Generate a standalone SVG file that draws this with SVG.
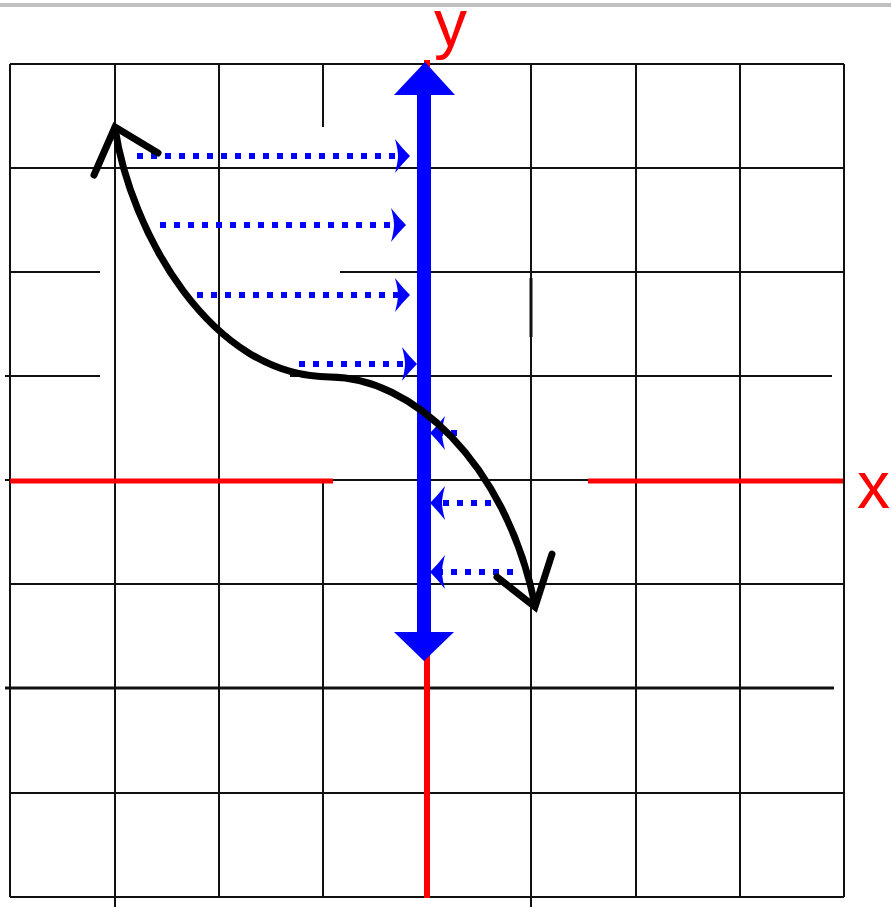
<svg xmlns="http://www.w3.org/2000/svg" width="891" height="907" viewBox="0 0 891 907">
  <style>
    .g { stroke: #111; stroke-width: 2; fill: none; }
    .gt { stroke: #111; stroke-width: 3; fill: none; }
    .red { stroke: #ff0000; fill: none; }
    .dots { stroke: #0000ff; stroke-width: 6; stroke-dasharray: 6 8; fill: none; marker-end: url(#ah); }
    .crv { stroke: #000; stroke-width: 7; fill: none; stroke-linecap: round; }
    .lbl { font-family: "Liberation Sans", Arial, sans-serif; font-size: 66px; fill: #ff0000; }
  </style>
  <defs>
    <marker id="ah" viewBox="-16 -18 17 36" markerWidth="17" markerHeight="36" refX="-10" refY="0" orient="auto" markerUnits="userSpaceOnUse">
      <path d="M0,0 Q-8,-8 -15,-17 Q-12,-6 -12,0 Q-12,6 -15,17 Q-8,8 0,0 Z" fill="#0000ff"/>
    </marker>
  </defs>
  <rect x="0" y="0" width="891" height="907" fill="#ffffff"/>

  <g id="grid">
    <line class="g" x1="10" y1="64" x2="10" y2="897"/>
    <line class="g" x1="115" y1="64" x2="115" y2="907"/>
    <line class="g" x1="219" y1="64" x2="219" y2="897"/>
    <line class="g" x1="323" y1="64" x2="323" y2="127"/>
    <line class="g" x1="323" y1="483" x2="323" y2="897"/>
    <line class="g" x1="531" y1="64" x2="531" y2="907"/>
    <line class="gt" x1="531" y1="278" x2="531" y2="337"/>
    <line class="g" x1="636" y1="64" x2="636" y2="897"/>
    <line class="g" x1="740" y1="64" x2="740" y2="897"/>
    <line class="g" x1="844" y1="64" x2="844" y2="897"/>
    <line class="g" x1="10" y1="64" x2="844" y2="64"/>
    <line class="g" x1="10" y1="168" x2="844" y2="168"/>
    <line class="g" x1="10" y1="272" x2="100" y2="272"/>
    <line class="g" x1="340" y1="272" x2="844" y2="272"/>
    <line class="g" x1="5" y1="376" x2="100" y2="376"/>
    <line class="g" x1="290" y1="376" x2="832" y2="376"/>
    <line class="g" x1="5" y1="480" x2="844" y2="480"/>
    <line class="g" x1="10" y1="584" x2="844" y2="584"/>
    <line class="gt" x1="5" y1="688" x2="834" y2="688"/>
    <line class="g" x1="10" y1="793" x2="844" y2="793"/>
    <line class="g" x1="10" y1="897" x2="844" y2="897"/>
  </g>

  <g id="axes">
    <line class="red" stroke-width="5" x1="10" y1="481" x2="333" y2="481"/>
    <line class="red" stroke-width="5" x1="588" y1="481" x2="843" y2="481"/>
    <line class="red" stroke-width="6" x1="427" y1="60" x2="427" y2="898"/>
  </g>

  <g id="blue-axis">
    <rect x="417" y="92" width="14" height="542" fill="#0000ff"/>
    <polygon points="425,62 455,95 394,95" fill="#0000ff"/>
    <polygon points="394,632 454,632 424,661" fill="#0000ff"/>
  </g>

  <g id="connectors">
    <line class="dots" x1="137" y1="156" x2="400" y2="156"/>
    <line class="dots" x1="160" y1="225" x2="396" y2="225"/>
    <line class="dots" x1="197" y1="295" x2="400" y2="295"/>
    <line class="dots" x1="299" y1="364" x2="407" y2="364"/>
    <line class="dots" x1="457" y1="433" x2="440" y2="433"/>
    <line class="dots" x1="491" y1="503" x2="440" y2="503"/>
    <line class="dots" x1="513" y1="572" x2="440" y2="572"/>
  </g>

  <g id="curve">
    <path class="crv" d="M115,128 C130,230 210,377 330,377 C410,377 505,460 535,605"/>
    <polyline class="crv" stroke-linejoin="miter" points="94,175 115,127 158,153"/>
    <polyline class="crv" stroke-linejoin="miter" points="497,577 535,607 552,554"/>
  </g>

  <g id="labels">
    <text class="lbl" x="434" y="46">y</text>
    <text class="lbl" x="857" y="508">x</text>
  </g>

  <rect x="0" y="3" width="891" height="4" fill="#c0c0c0"/>
</svg>
